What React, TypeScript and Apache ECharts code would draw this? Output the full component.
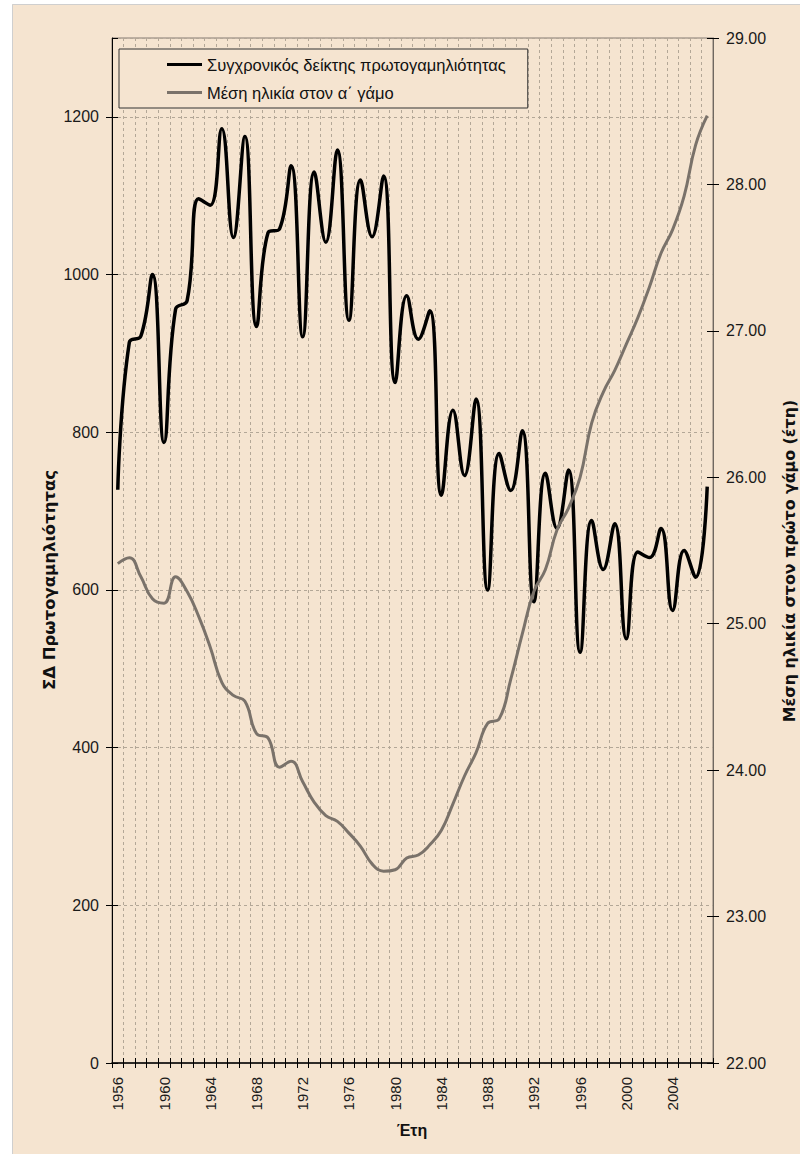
import React, { useEffect, useRef } from "react";
import * as echarts from "echarts";

const years: string[] = [
  "1956","1957","1958","1959","1960","1961","1962","1963","1964","1965",
  "1966","1967","1968","1969","1970","1971","1972","1973","1974","1975",
  "1976","1977","1978","1979","1980","1981","1982","1983","1984","1985",
  "1986","1987","1988","1989","1990","1991","1992","1993","1994","1995",
  "1996","1997","1998","1999","2000","2001","2002","2003","2004","2005",
  "2006","2007",
];

// Συγχρονικός δείκτης πρωτογαμηλιότητας (left axis)
const firstMarriageIndex: number[] = [
  727, 914, 922, 1000, 787, 956, 967, 1096, 1088, 1185,
  1047, 1175, 934, 1053, 1058, 1138, 921, 1130, 1041, 1158,
  942, 1120, 1048, 1125, 863, 973, 918, 954, 720, 828,
  745, 842, 600, 773, 726, 802, 585, 748, 678, 752,
  521, 688, 626, 684, 538, 648, 641, 678, 574, 650,
  616, 731,
];

// Μέση ηλικία στον α΄ γάμο (right axis)
const meanAgeFirstMarriage: number[] = [
  25.41, 25.45, 25.32, 25.17, 25.14, 25.32, 25.22, 25.05, 24.84, 24.6,
  24.51, 24.47, 24.25, 24.22, 24.02, 24.06, 23.92, 23.78, 23.69, 23.65,
  23.57, 23.48, 23.36, 23.31, 23.32, 23.4, 23.42, 23.49, 23.59, 23.77,
  23.96, 24.12, 24.32, 24.35, 24.62, 24.93, 25.22, 25.37, 25.64, 25.79,
  26.0, 26.37, 26.58, 26.73, 26.91, 27.09, 27.3, 27.53, 27.69, 27.92,
  28.27, 28.47,
];

const seriesNames = [
  "Συγχρονικός δείκτης πρωτογαμηλιότητας",
  "Μέση ηλικία στον α΄ γάμο",
];

const leftTitle = "ΣΔ Πρωτογαμηλιότητας";
const rightTitle = "Μέση ηλικία στον πρώτο γάμο (έτη)";
const xTitle = "Έτη";

const FONT = "'Liberation Sans', Arial, sans-serif";
const TITLE_FONT = "'DejaVu Sans', 'Liberation Sans', Arial, sans-serif";
const BG = "#F5E4D0";
const GRID_COLOR = "#b3a797";

export default function App() {
  const ref = useRef<HTMLDivElement>(null);

  useEffect(() => {
    if (!ref.current) return;
    const chart = echarts.init(ref.current, undefined, { renderer: "svg" });
    const option: any = {
      animation: false,
      backgroundColor: BG,
      textStyle: { fontFamily: FONT },
      graphic: [
        { type: "rect", silent: true, shape: { x: 0, y: 0, width: 800, height: 4 }, style: { fill: "#ffffff" } },
        { type: "rect", silent: true, shape: { x: 0, y: 0, width: 12, height: 1154 }, style: { fill: "#ffffff" } },
        { type: "line", silent: true, shape: { x1: 12.5, y1: 4.5, x2: 800, y2: 4.5 }, style: { stroke: "#cfcfcf", lineWidth: 1 } },
        { type: "line", silent: true, shape: { x1: 12.5, y1: 4.5, x2: 12.5, y2: 1154 }, style: { stroke: "#cfcfcf", lineWidth: 1 } },
        {
          type: "text", silent: true, x: 49, y: 580, rotation: Math.PI / 2,
          style: { text: leftTitle, font: `bold 16.5px ${TITLE_FONT}`, fill: "#111", align: "center", verticalAlign: "middle" },
        },
        {
          type: "text", silent: true, x: 789, y: 561, rotation: Math.PI / 2,
          style: { text: rightTitle, font: `bold 15.8px ${TITLE_FONT}`, fill: "#111", align: "center", verticalAlign: "middle" },
        },
        {
          type: "text", silent: true, x: 412, y: 1130,
          style: { text: xTitle, font: `bold 16px ${FONT}`, fill: "#111", align: "center", verticalAlign: "middle" },
        },
      ],
      legend: {
        left: 119,
        top: 49,
        orient: "vertical",
        padding: [7, 22, 7, 48],
        itemGap: 11,
        itemWidth: 35,
        itemHeight: 3,
        icon: "rect",
        borderColor: "#333",
        borderWidth: 1,
        backgroundColor: BG,
        textStyle: { fontSize: 16.5, color: "#111", fontFamily: FONT },
        data: seriesNames,
      },
      grid: {
        left: 112,
        top: 38,
        width: 601,
        height: 1025,
        show: true,
        borderColor: "#857b72",
        borderWidth: 1,
        backgroundColor: "transparent",
      },
      xAxis: [
        {
          type: "category",
          data: years,
          boundaryGap: true,
          position: "bottom",
          axisLine: { show: true, lineStyle: { color: "#000", width: 1.5 } },
          axisTick: { show: true, interval: 0, length: 5, lineStyle: { color: "#000" } },
          axisLabel: { interval: 3, rotate: 90, margin: 14, fontSize: 15, color: "#1a1a1a", fontFamily: FONT },
          splitLine: { show: true, interval: 0, lineStyle: { type: [3, 3], color: GRID_COLOR, width: 1 } },
        },
        {
          type: "category",
          data: years,
          boundaryGap: true,
          position: "bottom",
          axisLine: { show: false },
          axisTick: { show: true, inside: true, interval: 0, length: 5, lineStyle: { color: "#000" } },
          axisLabel: { show: false },
          splitLine: { show: false },
        },
      ],
      yAxis: [
        {
          type: "value",
          min: 0,
          max: 1300,
          interval: 200,
          position: "left",
          axisLine: { show: true, lineStyle: { color: "#000", width: 1 } },
          axisTick: { show: true, length: 6, lineStyle: { color: "#000" } },
          axisLabel: {
            showMaxLabel: false, margin: 13, fontSize: 16, color: "#1a1a1a", fontFamily: FONT,
            formatter: (v: number) => String(v),
          },
          splitLine: { show: true, lineStyle: { type: [3, 3], color: GRID_COLOR, width: 1 } },
        },
        {
          type: "value",
          min: 22,
          max: 29,
          interval: 1,
          position: "right",
          axisLine: { show: true, lineStyle: { color: "#6f6860", width: 1 } },
          axisTick: { show: true, length: 6, lineStyle: { color: "#000" } },
          axisLabel: { formatter: (v: number) => v.toFixed(2), margin: 13, fontSize: 16, color: "#1a1a1a", fontFamily: FONT },
          splitLine: { show: false },
        },
        {
          type: "value",
          min: 0,
          max: 1300,
          interval: 200,
          position: "left",
          axisLine: { show: false },
          axisTick: { show: true, inside: true, length: 6, lineStyle: { color: "#000" } },
          axisLabel: { show: false },
          splitLine: { show: false },
        },
        {
          type: "value",
          min: 22,
          max: 29,
          interval: 1,
          position: "right",
          axisLine: { show: false },
          axisTick: { show: true, inside: true, length: 6, lineStyle: { color: "#000" } },
          axisLabel: { show: false },
          splitLine: { show: false },
        },
      ],
      series: [
        {
          name: seriesNames[0],
          type: "line",
          xAxisIndex: 0,
          yAxisIndex: 0,
          data: firstMarriageIndex,
          smooth: 0.45,
          symbol: "none",
          color: "#000000",
          lineStyle: { color: "#000000", width: 3.5 },
          z: 3,
        },
        {
          name: seriesNames[1],
          type: "line",
          xAxisIndex: 0,
          yAxisIndex: 1,
          data: meanAgeFirstMarriage,
          smooth: 0.45,
          symbol: "none",
          color: "#7a726a",
          lineStyle: { color: "#7a726a", width: 3 },
          z: 4,
        },
      ],
    };
    chart.setOption(option);
    return () => chart.dispose();
  }, []);

  return (
    <div
      ref={ref}
      style={{ position: "fixed", left: 0, top: 0, width: 800, height: 1154 }}
    />
  );
}
